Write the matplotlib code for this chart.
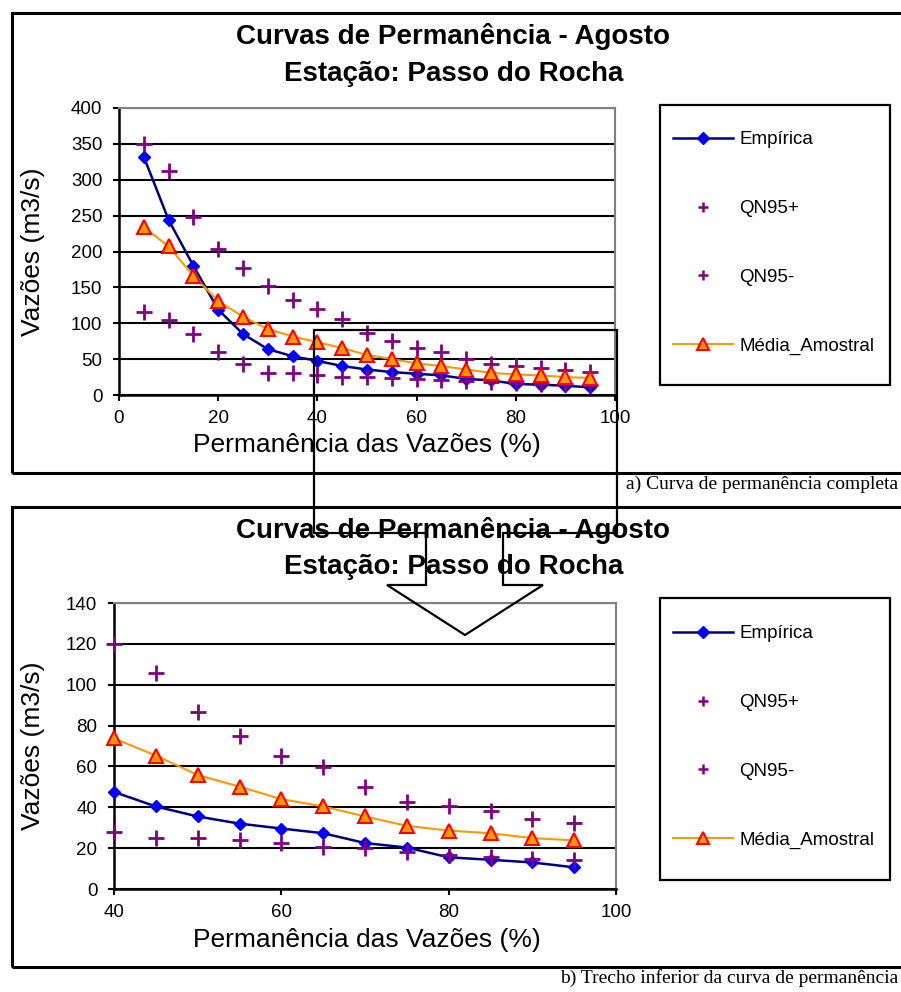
import matplotlib
matplotlib.use('Agg')
import matplotlib.pyplot as plt
from matplotlib.lines import Line2D
from matplotlib.patches import Polygon, Rectangle
import numpy as np

# data
perm = [5, 10, 15, 20, 25, 30, 35, 40, 45, 50, 55, 60, 65, 70, 75, 80, 85, 90, 95]
empirica = [332, 244, 180, 119, 85, 64, 54, 47.5, 40.4, 35.5, 32, 29.6, 27.3, 22.5, 20.3, 15.5, 14.3, 13, 10.6]
qn95_mais = [350, 312, 248, 204, 177, 152, 133, 120, 105.8, 86.8, 75, 65.3, 59.6, 50.1, 42.8, 40.4, 38.3, 34.5, 32.2]
qn95_menos = [115, 105, 85, 60.5, 43.3, 30.2, 30.2, 27.7, 24.9, 24.9, 23.8, 22.5, 20.8, 20, 17.9, 16.4, 15.5, 14.7, 14.3]
media = [234, 207, 166, 131, 109, 92, 81.5, 73.7, 65.3, 55.8, 50.1, 44, 40.4, 35.5, 30.9, 28.6, 27.3, 24.9, 23.8]
labels = ['Empírica', 'QN95+', 'QN95-', 'Média_Amostral']

title1 = 'Curvas de Permanência - Agosto'
title2 = 'Estação: Passo do Rocha'
xlabel = 'Permanência das Vazões (%)'
ylabel = 'Vazões (m3/s)'
caption_a = 'a) Curva de permanência completa'
caption_b = 'b) Trecho inferior da curva de permanência'

W, H = 901, 992
plt.rcParams['font.family'] = ['Liberation Sans', 'DejaVu Sans']
fig = plt.figure(figsize=(W / 100, H / 100), dpi=100)


def fx(x):
    return x / W


def fy(y):
    return 1 - y / H


def axes_px(l, t, r, b):
    return fig.add_axes([fx(l), fy(b), (r - l) / W, (b - t) / H])


def draw_panel(ax, x, sl, xlim, ylim, ystep, xstep, leg_box, leg_center, ttl_y, xl_y, yl_x):
    xs = np.array(x)[sl]
    ax.plot(xs, np.array(empirica)[sl], color='#000080', lw=1.8, marker='D', ms=6.5,
            mfc='#0000FF', mec='#0000FF', clip_on=False, zorder=3)
    ax.plot(xs, np.array(qn95_mais)[sl], ls='none', marker='+', ms=11, mew=2,
            color='#800080', clip_on=False, zorder=4)
    ax.plot(xs, np.array(qn95_menos)[sl], ls='none', marker='+', ms=11, mew=2,
            color='#800080', clip_on=False, zorder=4)
    ax.plot(xs, np.array(media)[sl], color='#FF9900', lw=1.5, marker='^', ms=9.5,
            mfc='#FF9900', mec='#FF0000', mew=1.5, clip_on=False, zorder=5)
    ax.set_xlim(*xlim)
    ax.set_ylim(*ylim)
    ax.set_xticks(np.arange(xlim[0], xlim[1] + 1, xstep))
    ax.set_yticks(np.arange(ylim[0], ylim[1] + 1, ystep))
    ax.yaxis.grid(True, color='black', lw=1.5)
    ax.tick_params(direction='out', length=4, width=1.5, labelsize=13.5, colors='black')
    ax.tick_params(axis='x', pad=7)
    ax.tick_params(axis='y', pad=8)
    for s in ['left', 'bottom']:
        ax.spines[s].set_color('black')
        ax.spines[s].set_linewidth(1.8)
    for s in ['top', 'right']:
        ax.spines[s].set_color('#808080')
        ax.spines[s].set_linewidth(1.5)

    # titles and axis labels
    fig.text(0.503, fy(ttl_y), title1, ha='center', va='center', fontsize=20, fontweight='bold')
    fig.text(0.503, fy(ttl_y + 37), title2, ha='center', va='center', fontsize=20, fontweight='bold')
    fig.text(fx(367), fy(xl_y), xlabel, ha='center', va='center', fontsize=19)
    fig.text(fx(yl_x), (ax.get_position().y0 + ax.get_position().y1) / 2, ylabel,
             ha='center', va='center', rotation=90, fontsize=19)

    # legend
    l, t, r, b = leg_box
    fig.add_artist(Rectangle((fx(l), fy(b)), (r - l) / W, (b - t) / H, transform=fig.transFigure,
                             fill=False, ec='black', lw=1.6))
    handles = [
        Line2D([], [], color='#000080', lw=1.8, marker='D', ms=6, mfc='#0000FF', mec='#0000FF'),
        Line2D([], [], ls='none', marker='+', ms=6.5, mew=1.8, color='#800080'),
        Line2D([], [], ls='none', marker='+', ms=6.5, mew=1.8, color='#800080'),
        Line2D([], [], color='#FF9900', lw=1.5, marker='^', ms=8.5, mfc='#FF9900', mec='#FF0000', mew=1.5),
    ]
    fig.legend(handles, labels, loc='center left', bbox_to_anchor=(fx(673), fy(leg_center)),
               frameon=False, fontsize=13.5, numpoints=1, handlelength=3.2, handletextpad=0.35,
               labelspacing=2.75, borderpad=0, borderaxespad=0)


ax1 = axes_px(119, 108, 615, 395)
draw_panel(ax1, perm, slice(0, None), (0, 100), (0, 400), 50, 20,
           (660, 105, 890, 385), 243, 37, 445, 33)

ax2 = axes_px(114, 603, 616, 889)
draw_panel(ax2, perm, slice(7, None), (40, 100), (0, 140), 20, 20,
           (660, 598, 890, 880), 737, 530, 940, 33)

# panel frames
for t, b in [(13, 473), (507, 967)]:
    fig.add_artist(Rectangle((fx(12), fy(b)), (W + 10 - 12) / W, (b - t) / H,
                             transform=fig.transFigure, fill=False, ec='black', lw=2.2, clip_on=False))

# captions
fig.text(fx(898), fy(484), caption_a, ha='right', va='center', fontsize=14, family='Liberation Serif')
fig.text(fx(898), fy(978), caption_b, ha='right', va='center', fontsize=14, family='Liberation Serif')

# zoom indicator: box over the lower part of curve with a block arrow down
arrow_px = [(314, 330), (617, 330), (617, 533), (503, 533), (503, 585), (543, 585), (465, 635),
            (387, 585), (426, 585), (426, 533), (314, 533)]
fig.add_artist(Polygon([(fx(x), fy(y)) for x, y in arrow_px], closed=True, transform=fig.transFigure,
                       fill=False, ec='black', lw=1.6, zorder=10))

fig.savefig('out.png', dpi=100)
